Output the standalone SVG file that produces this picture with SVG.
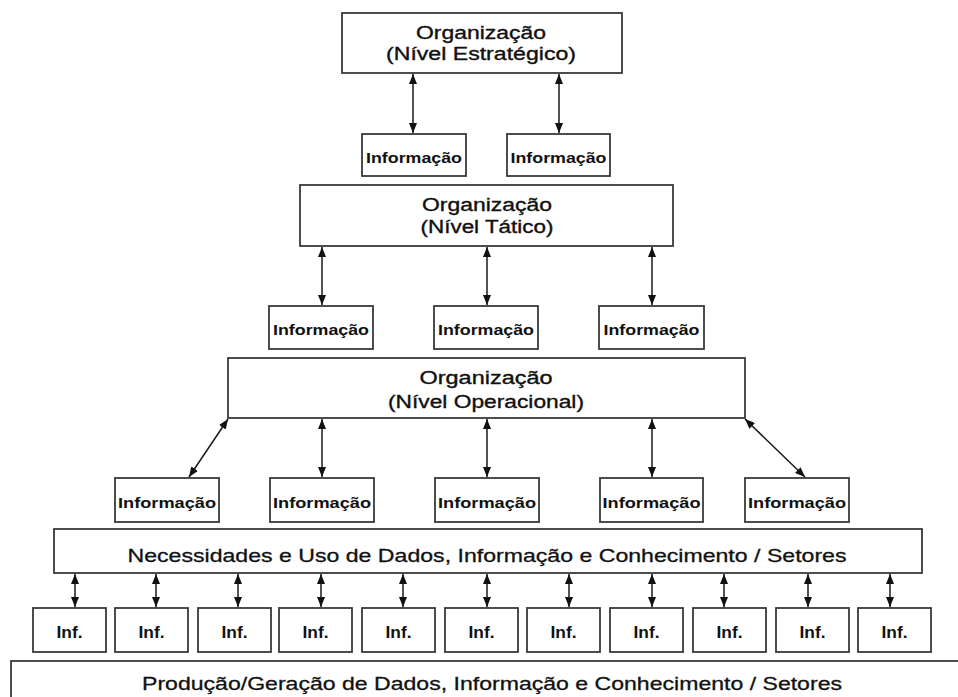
<svg xmlns="http://www.w3.org/2000/svg" width="958" height="697" viewBox="0 0 958 697">
<style>
  .box { fill: #ffffff; stroke: #3a3a3a; stroke-width: 1.8; }
  .t { font-family: "Liberation Sans", Arial, sans-serif; fill: #111; text-anchor: middle; }
  .big { font-size: 18px; stroke: #111; stroke-width: 0.35; }
  .info { font-size: 14.5px; font-weight: bold; }
  .inf { font-size: 16px; font-weight: bold; }
  .wide { font-size: 19px; stroke: #111; stroke-width: 0.3; }
  .conn line { stroke: #1a1a1a; stroke-width: 1.5; marker-start: url(#ah); marker-end: url(#ah); }
</style>
<defs>
  <marker id="ah" markerUnits="userSpaceOnUse" markerWidth="10" markerHeight="8" refX="10" refY="4" orient="auto-start-reverse">
    <path d="M0,0 L10,4 L0,8 z" fill="#111"/>
  </marker>
</defs>
<rect width="958" height="697" fill="#ffffff"/>

<g id="connectors" class="conn">
  <line x1="413" y1="74" x2="413" y2="133"/>
  <line x1="559" y1="74" x2="559" y2="133"/>
  <line x1="322" y1="247" x2="322" y2="305"/>
  <line x1="487" y1="247" x2="487" y2="305"/>
  <line x1="652" y1="247" x2="652" y2="305"/>
  <line x1="228" y1="419" x2="189" y2="477"/>
  <line x1="322" y1="419" x2="322" y2="477"/>
  <line x1="487" y1="419" x2="487" y2="477"/>
  <line x1="652" y1="419" x2="652" y2="477"/>
  <line x1="745" y1="419" x2="805" y2="477"/>
  <line x1="75" y1="574" x2="75" y2="607"/>
  <line x1="156" y1="574" x2="156" y2="607"/>
  <line x1="238" y1="574" x2="238" y2="607"/>
  <line x1="321" y1="574" x2="321" y2="607"/>
  <line x1="403" y1="574" x2="403" y2="607"/>
  <line x1="487" y1="574" x2="487" y2="607"/>
  <line x1="569" y1="574" x2="569" y2="607"/>
  <line x1="652" y1="574" x2="652" y2="607"/>
  <line x1="724" y1="574" x2="724" y2="607"/>
  <line x1="808" y1="574" x2="808" y2="607"/>
  <line x1="890" y1="574" x2="890" y2="607"/>
</g>

<g id="org-estrategico">
  <rect class="box" x="342" y="13" width="280" height="60"/>
  <text class="t big" x="481" y="39" textLength="130" lengthAdjust="spacingAndGlyphs">Organização</text>
  <text class="t big" x="481" y="60" textLength="190" lengthAdjust="spacingAndGlyphs">(Nível Estratégico)</text>
</g>

<g id="info-e1"><rect class="box" x="362" y="134" width="104" height="42"/><text class="t info" x="414" y="163" textLength="96" lengthAdjust="spacingAndGlyphs">Informação</text></g>
<g id="info-e2"><rect class="box" x="507" y="134" width="103" height="42"/><text class="t info" x="558.5" y="163" textLength="96" lengthAdjust="spacingAndGlyphs">Informação</text></g>

<g id="org-tatico">
  <rect class="box" x="300" y="185" width="373" height="61"/>
  <text class="t big" x="487" y="211" textLength="130" lengthAdjust="spacingAndGlyphs">Organização</text>
  <text class="t big" x="487" y="233" textLength="133" lengthAdjust="spacingAndGlyphs">(Nível Tático)</text>
</g>

<g id="info-t1"><rect class="box" x="269" y="306" width="104" height="43"/><text class="t info" x="321" y="335" textLength="96" lengthAdjust="spacingAndGlyphs">Informação</text></g>
<g id="info-t2"><rect class="box" x="434" y="306" width="104" height="43"/><text class="t info" x="486" y="335" textLength="96" lengthAdjust="spacingAndGlyphs">Informação</text></g>
<g id="info-t3"><rect class="box" x="599" y="306" width="105" height="43"/><text class="t info" x="651.5" y="335" textLength="96" lengthAdjust="spacingAndGlyphs">Informação</text></g>

<g id="org-operacional">
  <rect class="box" x="228" y="358" width="517" height="60"/>
  <text class="t big" x="486" y="384" textLength="133" lengthAdjust="spacingAndGlyphs">Organização</text>
  <text class="t big" x="486" y="408" textLength="196" lengthAdjust="spacingAndGlyphs">(Nível Operacional)</text>
</g>

<g id="info-o1"><rect class="box" x="115" y="478" width="104" height="44"/><text class="t info" x="167" y="508" textLength="98" lengthAdjust="spacingAndGlyphs">Informação</text></g>
<g id="info-o2"><rect class="box" x="270" y="478" width="104" height="44"/><text class="t info" x="322" y="508" textLength="98" lengthAdjust="spacingAndGlyphs">Informação</text></g>
<g id="info-o3"><rect class="box" x="435" y="478" width="104" height="44"/><text class="t info" x="487" y="508" textLength="98" lengthAdjust="spacingAndGlyphs">Informação</text></g>
<g id="info-o4"><rect class="box" x="600" y="478" width="103" height="44"/><text class="t info" x="651.5" y="508" textLength="98" lengthAdjust="spacingAndGlyphs">Informação</text></g>
<g id="info-o5"><rect class="box" x="745" y="478" width="104" height="44"/><text class="t info" x="797" y="508" textLength="98" lengthAdjust="spacingAndGlyphs">Informação</text></g>

<g id="necessidades">
  <rect class="box" x="54" y="529" width="868" height="44"/>
  <text class="t wide" x="487" y="562" textLength="719" lengthAdjust="spacingAndGlyphs">Necessidades e Uso de Dados, Informação e Conhecimento / Setores</text>
</g>

<g id="inf-1"><rect class="box" x="33" y="608" width="73" height="44"/><text class="t inf" x="69.5" y="638" textLength="26" lengthAdjust="spacingAndGlyphs">Inf.</text></g>
<g id="inf-2"><rect class="box" x="115" y="608" width="73" height="44"/><text class="t inf" x="151.5" y="638" textLength="26" lengthAdjust="spacingAndGlyphs">Inf.</text></g>
<g id="inf-3"><rect class="box" x="198" y="608" width="73" height="44"/><text class="t inf" x="234.5" y="638" textLength="26" lengthAdjust="spacingAndGlyphs">Inf.</text></g>
<g id="inf-4"><rect class="box" x="279" y="608" width="73" height="44"/><text class="t inf" x="315.5" y="638" textLength="26" lengthAdjust="spacingAndGlyphs">Inf.</text></g>
<g id="inf-5"><rect class="box" x="362" y="608" width="73" height="44"/><text class="t inf" x="398.5" y="638" textLength="26" lengthAdjust="spacingAndGlyphs">Inf.</text></g>
<g id="inf-6"><rect class="box" x="445" y="608" width="73" height="44"/><text class="t inf" x="481.5" y="638" textLength="26" lengthAdjust="spacingAndGlyphs">Inf.</text></g>
<g id="inf-7"><rect class="box" x="527" y="608" width="73" height="44"/><text class="t inf" x="563.5" y="638" textLength="26" lengthAdjust="spacingAndGlyphs">Inf.</text></g>
<g id="inf-8"><rect class="box" x="610" y="608" width="73" height="44"/><text class="t inf" x="646.5" y="638" textLength="26" lengthAdjust="spacingAndGlyphs">Inf.</text></g>
<g id="inf-9"><rect class="box" x="693" y="608" width="73" height="44"/><text class="t inf" x="729.5" y="638" textLength="26" lengthAdjust="spacingAndGlyphs">Inf.</text></g>
<g id="inf-10"><rect class="box" x="776" y="608" width="73" height="44"/><text class="t inf" x="812.5" y="638" textLength="26" lengthAdjust="spacingAndGlyphs">Inf.</text></g>
<g id="inf-11"><rect class="box" x="858" y="608" width="73" height="44"/><text class="t inf" x="894.5" y="638" textLength="26" lengthAdjust="spacingAndGlyphs">Inf.</text></g>

<g id="producao">
  <rect class="box" x="11" y="661" width="960" height="60"/>
  <text class="t wide" x="492" y="690" textLength="700" lengthAdjust="spacingAndGlyphs">Produção/Geração de Dados, Informação e Conhecimento / Setores</text>
</g>
</svg>
